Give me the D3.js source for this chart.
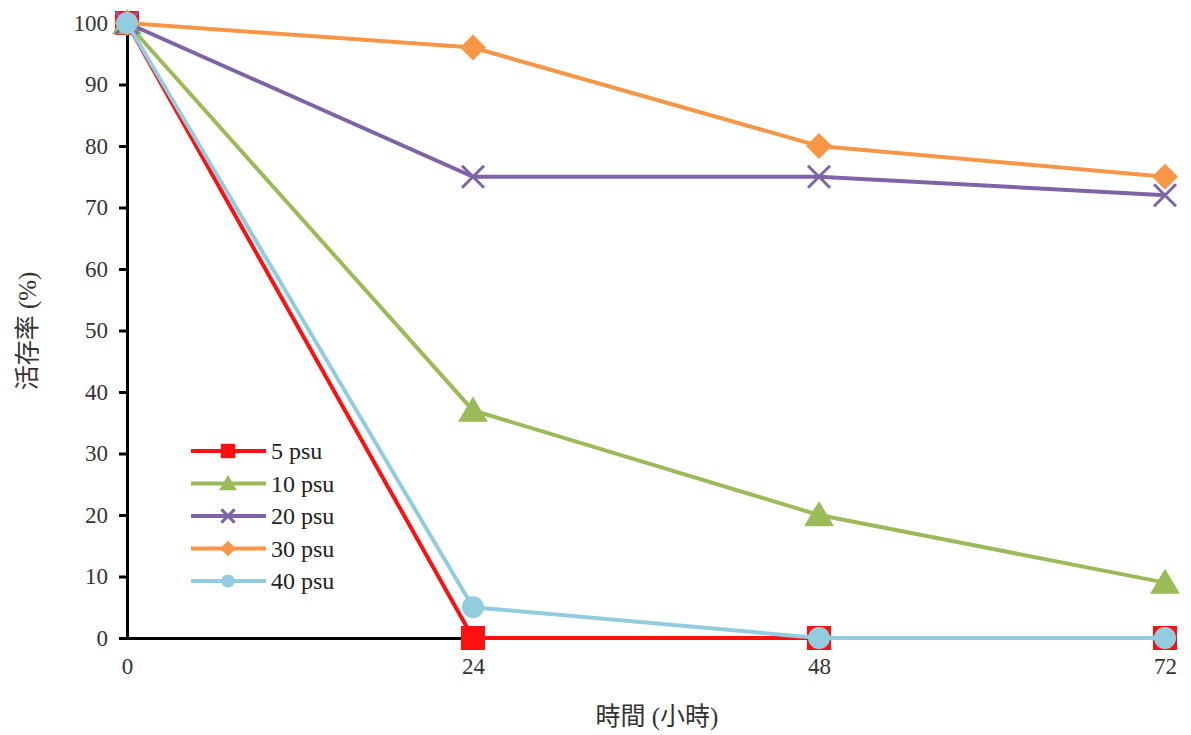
<!DOCTYPE html>
<html><head><meta charset="utf-8">
<script src="https://cdn.jsdelivr.net/npm/d3@7"></script>
<style>body{margin:0;background:#fff}</style>
</head><body>
<svg id="c" width="1191" height="735"></svg>
<script>
const hours = [0, 24, 48, 72];
const yTicks = [0, 10, 20, 30, 40, 50, 60, 70, 80, 90, 100];
const seriesNames = ["5 psu", "10 psu", "20 psu", "30 psu", "40 psu"];
const s5 = [100, 0, 0, 0];
const s10 = [100, 37, 20, 9];
const s20 = [100, 75, 75, 72];
const s30 = [100, 96, 80, 75];
const s40 = [100, 5, 0, 0];
const xTitle = "時間 (小時)";
const yTitle = "活存率 (%)";

const series = [
  {name: seriesNames[0], vals: s5, color: "#ff1010", shape: "square"},
  {name: seriesNames[1], vals: s10, color: "#9bbb59", shape: "triangle"},
  {name: seriesNames[2], vals: s20, color: "#7f63a8", shape: "x"},
  {name: seriesNames[3], vals: s30, color: "#f79646", shape: "diamond"},
  {name: seriesNames[4], vals: s40, color: "#92cddf", shape: "circle"}
];

const svg = d3.select("#c");
const x = d3.scaleLinear().domain([0, 72]).range([127, 1165]);
const y = d3.scaleLinear().domain([0, 100]).range([638, 23]);
const serif = "'Liberation Serif','Times New Roman',serif";
const cjk = "'Liberation Serif','Noto Sans CJK TC',serif";

// y axis
const ya = svg.append("g").attr("transform", `translate(${x(0)},0)`)
  .call(d3.axisLeft(y).tickValues(yTicks).tickSize(8).tickPadding(11));
ya.select(".domain").attr("stroke", "#000").attr("stroke-width", 3);
ya.selectAll(".tick line").attr("stroke", "#000").attr("stroke-width", 3);
ya.selectAll("text").attr("font-family", serif).attr("font-size", 23).attr("fill", "#333");

// x axis
const xa = svg.append("g").attr("transform", `translate(0,${y(0)})`)
  .call(d3.axisBottom(x).tickValues(hours).tickSize(0).tickPadding(20));
xa.select(".domain").attr("stroke", "#000").attr("stroke-width", 3);
xa.selectAll("text").attr("font-family", serif).attr("font-size", 23).attr("fill", "#333");

svg.append("text").attr("x", 657).attr("y", 725).attr("text-anchor", "middle")
  .attr("font-family", cjk).attr("font-size", 25).attr("fill", "#333").text(xTitle);
svg.append("text").attr("transform", "translate(36,331) rotate(-90)").attr("text-anchor", "middle")
  .attr("font-family", cjk).attr("font-size", 25).attr("fill", "#333").text(yTitle);

function marker(g, shape, cx, cy, color, s) {
  s = s || 1;
  if (shape === "square") {
    g.append("rect").attr("x", cx - 12*s).attr("y", cy - 12*s).attr("width", 24*s).attr("height", 24*s).attr("fill", color);
  } else if (shape === "triangle") {
    const h = 14*s;
    g.append("path").attr("d", `M${cx},${cy - h}L${cx + 15*s},${cy + h*0.8}L${cx - 15*s},${cy + h*0.8}Z`).attr("fill", color);
  } else if (shape === "x") {
    const r = 11*s;
    g.append("path").attr("d", `M${cx-r},${cy-r}L${cx+r},${cy+r}M${cx-r},${cy+r}L${cx+r},${cy-r}`)
      .attr("stroke", color).attr("stroke-width", 3);
  } else if (shape === "diamond") {
    const r = 13*s;
    g.append("path").attr("d", `M${cx},${cy-r}L${cx+r},${cy}L${cx},${cy+r}L${cx-r},${cy}Z`).attr("fill", color);
  } else if (shape === "circle") {
    g.append("circle").attr("cx", cx).attr("cy", cy).attr("r", 11*s).attr("fill", color);
  }
}

const line = d3.line().x((d, i) => x(hours[i])).y(d => y(d));
series.forEach(sr => {
  const g = svg.append("g");
  g.append("path").attr("d", line(sr.vals)).attr("fill", "none").attr("stroke", sr.color).attr("stroke-width", 4);
  sr.vals.forEach((v, i) => marker(g, sr.shape, x(hours[i]), y(v), sr.color));
});

// legend
const lg = svg.append("g");
series.forEach((sr, i) => {
  const ly = 451 + i * 32.5;
  lg.append("line").attr("x1", 191).attr("x2", 266).attr("y1", ly).attr("y2", ly).attr("stroke", sr.color).attr("stroke-width", 4);
  marker(lg, sr.shape, 228, ly, sr.color, 0.6);
  lg.append("text").attr("x", 271).attr("y", ly + 8).attr("font-family", serif).attr("font-size", 24).attr("fill", "#222").text(sr.name);
});
</script>
</body></html>
